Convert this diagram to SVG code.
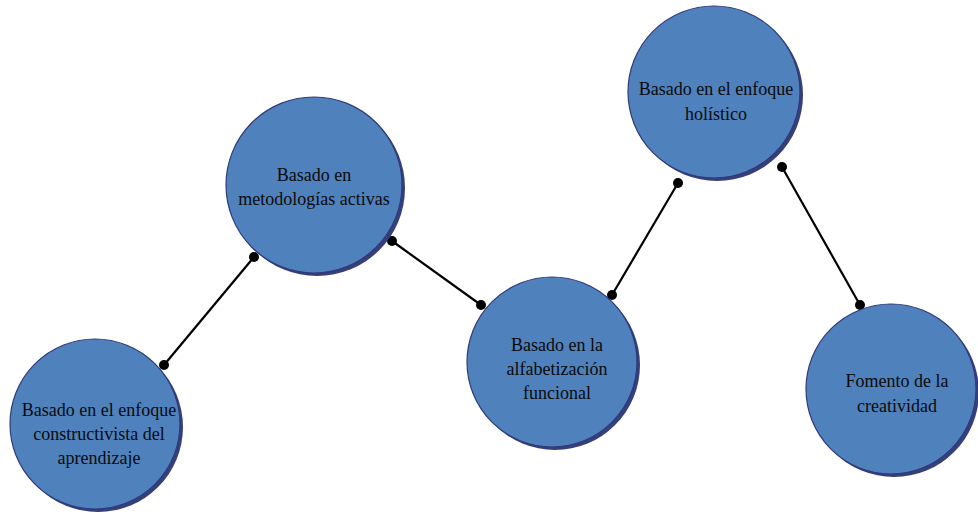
<svg xmlns="http://www.w3.org/2000/svg" width="978" height="518" viewBox="0 0 978 518">
<defs>
<style>
.sh{fill:#363F7A;}
.c{fill:#4F81BD;stroke:#2F3A78;stroke-width:1.2;}
.t{font-size:18px;fill:#0B0B0B;text-anchor:middle;}
.ln{stroke:#000;stroke-width:2.2;fill:none;}
.d{fill:#000;}
</style>
</defs>
<rect width="978" height="518" fill="#fff"/>
<g id="connectors">
<line class="ln" x1="164" y1="365" x2="254" y2="257"/>
<circle class="d" cx="164" cy="365" r="5"/><circle class="d" cx="254" cy="257" r="5"/>
<line class="ln" x1="392" y1="241" x2="481" y2="305"/>
<circle class="d" cx="392" cy="241" r="5"/><circle class="d" cx="481" cy="305" r="5"/>
<line class="ln" x1="612" y1="295" x2="678" y2="183"/>
<circle class="d" cx="612" cy="295" r="5"/><circle class="d" cx="678" cy="183" r="5"/>
<line class="ln" x1="782" y1="167" x2="860" y2="305"/>
<circle class="d" cx="782" cy="167" r="5"/><circle class="d" cx="860" cy="305" r="5"/>
</g>
<g font-family="'Liberation Serif', 'Times New Roman', 'DejaVu Serif', serif">
<g id="n1">
<circle class="sh" cx="98" cy="427" r="85"/>
<circle class="c" cx="95" cy="424" r="85"/>
<text class="t" x="99" y="416">Basado en el enfoque</text>
<text class="t" x="99" y="440">constructivista del</text>
<text class="t" x="99" y="464">aprendizaje</text>
</g>
<g id="n2">
<circle class="sh" cx="317" cy="188" r="88"/>
<circle class="c" cx="314" cy="185" r="88"/>
<text class="t" x="314" y="181">Basado en</text>
<text class="t" x="314" y="205">metodologías activas</text>
</g>
<g id="n3">
<circle class="sh" cx="555" cy="365" r="85"/>
<circle class="c" cx="552" cy="362" r="85"/>
<text class="t" x="557" y="351">Basado en la</text>
<text class="t" x="557" y="375">alfabetización</text>
<text class="t" x="557" y="399">funcional</text>
</g>
<g id="n4">
<circle class="sh" cx="717" cy="95" r="86"/>
<circle class="c" cx="714" cy="92" r="86"/>
<text class="t" x="716" y="95">Basado en el enfoque</text>
<text class="t" x="716" y="120">holístico</text>
</g>
<g id="n5">
<circle class="sh" cx="894" cy="392" r="85"/>
<circle class="c" cx="891" cy="389" r="85"/>
<text class="t" x="897" y="387">Fomento de la</text>
<text class="t" x="897" y="412">creatividad</text>
</g>
</g>
</svg>
